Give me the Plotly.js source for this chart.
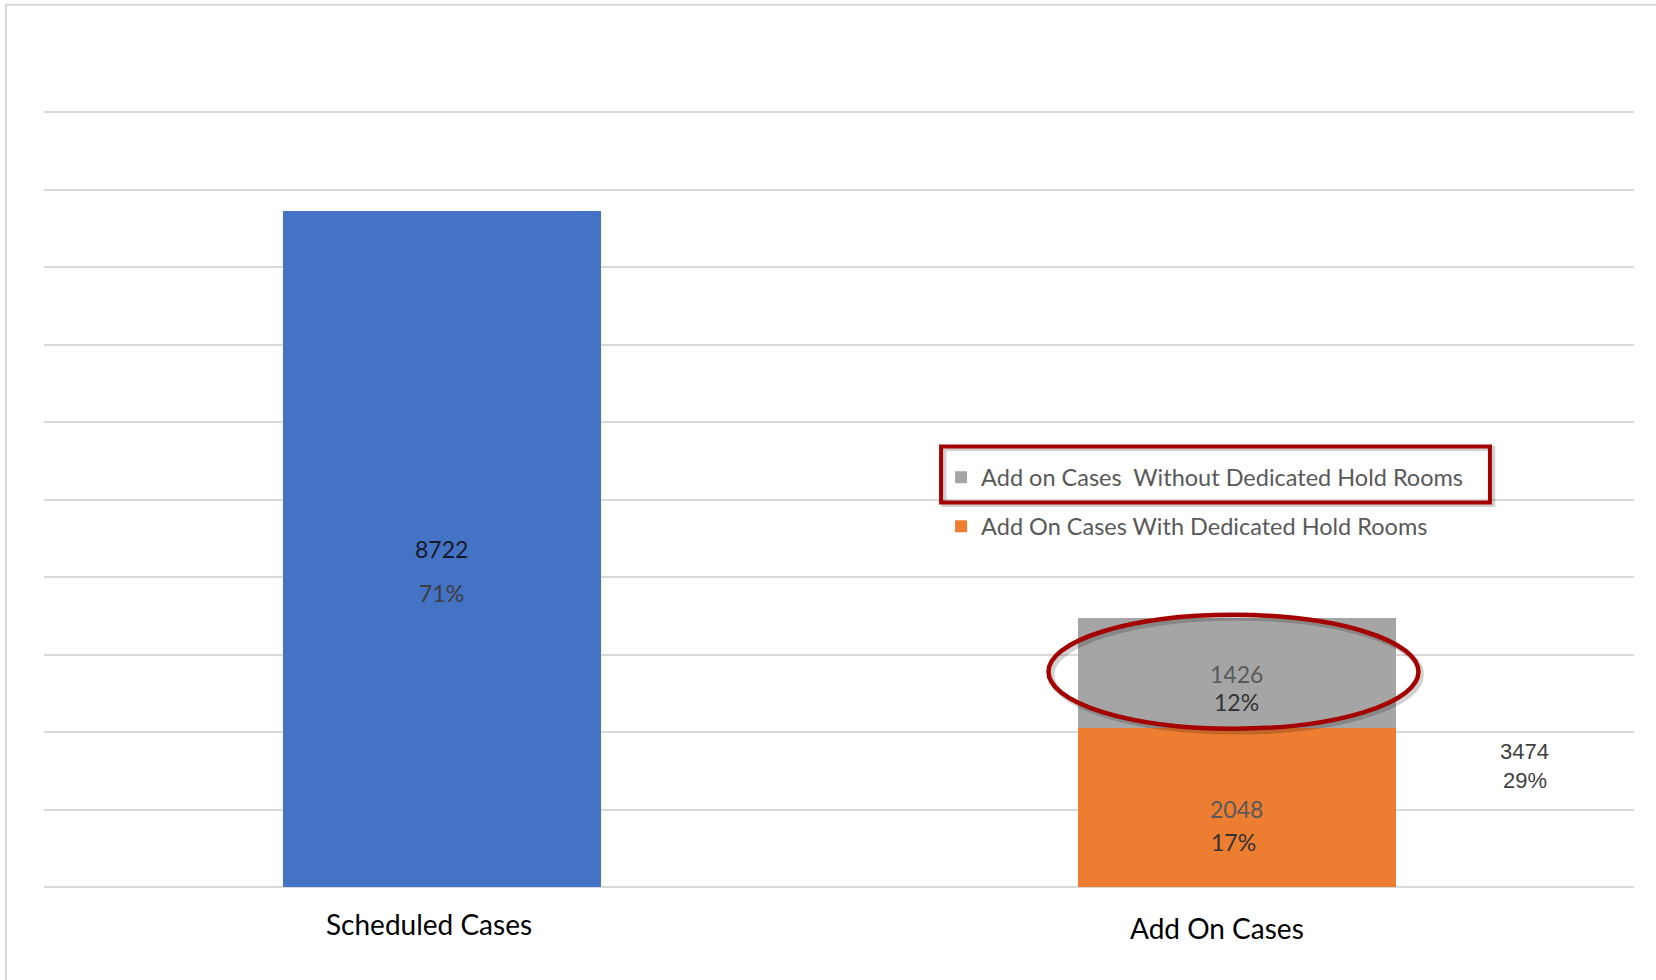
<!DOCTYPE html>
<html>
<head>
<meta charset="utf-8">
<script src="https://cdn.plot.ly/plotly-3.0.1.min.js"></script>
<style>html,body{margin:0;padding:0;background:#fff;}#chart{width:1656px;height:980px;}</style>
</head>
<body>
<div id="chart"></div>
<script>
// ---- data ----
const categories = ['Scheduled Cases', 'Add On Cases'];
const scheduledValues = [8722, null];
const withHoldValues = [null, 2048];
const withoutHoldValues = [null, 1426];
const scheduledPct = ['71%', ''];
const withHoldPct = ['', '17%'];
const withoutHoldPct = ['', '12%'];
const addOnTotal = 3474;
const addOnTotalPct = '29%';
const seriesNames = ['Scheduled Cases', 'Add On Cases With Dedicated Hold Rooms', 'Add on Cases \u00a0Without Dedicated Hold Rooms'];

const FONT = 'Lato, "Open Sans", sans-serif';

const traces = [
  {type: 'bar', name: seriesNames[0], x: categories, y: scheduledValues,
   marker: {color: '#4472C4'}, showlegend: false, hoverinfo: 'skip'},
  {type: 'bar', name: seriesNames[1], x: categories, y: withHoldValues,
   marker: {color: '#ED7D31'}, legend: 'legend2', hoverinfo: 'skip'},
  {type: 'bar', name: seriesNames[2], x: categories, y: withoutHoldValues,
   marker: {color: '#A5A5A5'}, legend: 'legend', hoverinfo: 'skip'}
];

const annotations = [];
function addLabel(cat, y, text, yshift, color, size, family, xshift) {
  annotations.push({x: cat, y: y, xref: 'x', yref: 'y', text: text, showarrow: false,
    xshift: xshift || 0, yshift: yshift, xanchor: 'center', yanchor: 'middle',
    font: {family: family || FONT, size: size, color: color}});
}
// segment labels
categories.forEach((c, i) => {
  if (scheduledValues[i] != null) {
    const mid = scheduledValues[i] / 2;
    addLabel(c, mid, String(scheduledValues[i]), 0, '#151b2b', 23);
    addLabel(c, mid, scheduledPct[i], -44, '#3d3d3d', 23);
  }
  if (withHoldValues[i] != null) {
    const mid = withHoldValues[i] / 2;
    addLabel(c, mid, String(withHoldValues[i]), -1, '#595959', 23);
    addLabel(c, mid, withHoldPct[i], -34, '#333333', 23, null, -3);
  }
  if (withoutHoldValues[i] != null) {
    const base = withHoldValues[i] || 0;
    const mid = base + withoutHoldValues[i] / 2;
    addLabel(c, mid, String(withoutHoldValues[i]), -1, '#595959', 23);
    addLabel(c, mid, withoutHoldPct[i], -29, '#333333', 23);
  }
});
// total label to the right of add-on bar
addLabel(categories[1], addOnTotal / 2, String(addOnTotal), 1, '#404040', 22, '"Liberation Sans", Arial, sans-serif', 288);
addLabel(categories[1], addOnTotal / 2, addOnTotalPct, -28, '#404040', 22, '"Liberation Sans", Arial, sans-serif', 288);
// category labels
addLabel(categories[0], 0, categories[0], -37, '#000000', 28, null, -13);
addLabel(categories[1], 0, categories[1], -41, '#000000', 28, null, -20);

const shapes = [
  // outer frame
  {type: 'rect', xref: 'paper', yref: 'paper', x0: -0.0239, x1: 1.2, y0: -0.3, y1: 1.137,
   line: {color: '#d9d9d9', width: 2}, fillcolor: 'rgba(0,0,0,0)', layer: 'below'},
  // legend highlight shadow
  {type: 'rect', xref: 'paper', yref: 'paper', x0: 0.5660, x1: 0.9112, y0: 0.4930, y1: 0.5650,
   line: {color: 'rgba(0,0,0,0.18)', width: 5}, fillcolor: 'rgba(0,0,0,0)'},
  // legend highlight box
  {type: 'rect', xref: 'paper', yref: 'paper', x0: 0.5642, x1: 0.9094, y0: 0.4955, y1: 0.5677,
   line: {color: '#A50000', width: 4}, fillcolor: 'rgba(0,0,0,0)'},
  // ellipse shadow
  {type: 'circle', xref: 'x', yref: 'y', x0: 0.767, x1: 1.232, y0: 2005, y1: 3475,
   line: {color: 'rgba(0,0,0,0.18)', width: 6}, fillcolor: 'rgba(0,0,0,0)'},
  // ellipse
  {type: 'circle', xref: 'x', yref: 'y', x0: 0.7635, x1: 1.2289, y0: 2042, y1: 3512,
   line: {color: '#A50000', width: 4.5}, fillcolor: 'rgba(0,0,0,0)'}
];

const layout = {
  width: 1656, height: 980,
  margin: {l: 44, r: 22, t: 111, b: 93, pad: 0},
  paper_bgcolor: '#ffffff', plot_bgcolor: '#ffffff',
  barmode: 'stack', bargap: 0.6,
  showlegend: true,
  xaxis: {type: 'category', categoryarray: categories, range: [-0.5, 1.5],
          showticklabels: false, showgrid: false, zeroline: false, showline: false, ticks: ''},
  yaxis: {range: [0, 10013], dtick: 1000, tick0: 0, showticklabels: false, ticks: '',
          showgrid: true, gridcolor: '#d9d9d9', gridwidth: 2,
          zeroline: true, zerolinecolor: '#d9d9d9', zerolinewidth: 2, showline: false},
  legend: {x: 0.5642, y: 0.5277, xanchor: 'left', yanchor: 'middle', bgcolor: 'rgba(0,0,0,0)',
           font: {family: FONT, size: 23.5, color: '#595959'}},
  legend2: {x: 0.5642, y: 0.4645, xanchor: 'left', yanchor: 'middle', bgcolor: 'rgba(0,0,0,0)',
           font: {family: FONT, size: 23.5, color: '#595959'}},
  annotations: annotations,
  shapes: shapes
};

Plotly.newPlot('chart', traces, layout, {displayModeBar: false, staticPlot: true});
</script>
</body>
</html>
